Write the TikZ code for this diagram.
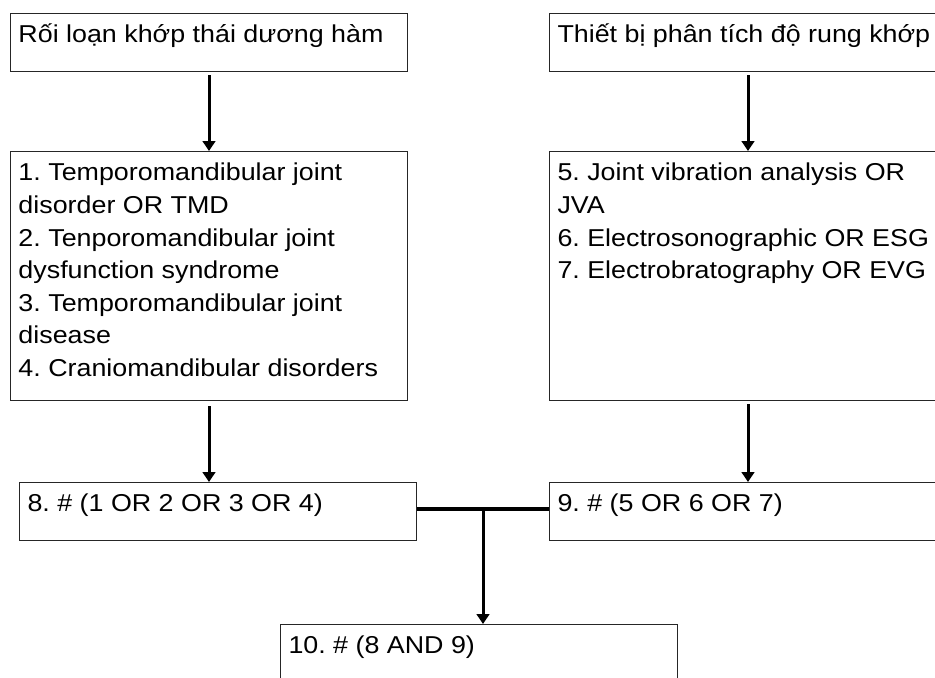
\documentclass[tikz,border=0pt]{standalone}
\usepackage{fontspec}
\setmainfont{Liberation Sans}[FakeStretch=1.1]
\usetikzlibrary{arrows.meta, calc}
\frenchspacing

\newcommand{\boxtext}[2]{\parbox[t][#1][t]{285.75pt}{\raggedright\strut #2}}

\begin{document}
\begin{tikzpicture}[x=0.75pt, y=-0.75pt,
    entry/.style={draw=black!85, line width=0.75pt, anchor=north west, inner xsep=6pt, inner ysep=5pt,
      font=\fontsize{18.3}{24.4}\selectfont},
    flow/.style={line width=2.25pt, -{Triangle[length=7.5pt, width=9.5pt]}},
    joinbar/.style={line width=3pt}]
        \useasboundingbox (0,0) rectangle (935,678);
        \clip (0,0) rectangle (935,678);

        % Topics
        \node[entry] (tmj) at (10,13) {\boxtext{33.5pt}{Rối loạn khớp thái dương hàm}};
        \node[entry] (jva) at (549,13) {\boxtext{33.5pt}{Thiết bị phân tích độ rung khớp}};

        % Search terms
        \node[entry] (tmjterms) at (10,151) {\boxtext{176.75pt}{1. Temporomandibular joint\\
          disorder OR TMD\\ 2. Tenporomandibular joint\\ dysfunction syndrome\\
          3. Temporomandibular joint\\ disease\\ 4. Craniomandibular disorders}};
        \node[entry] (jvaterms) at (549,151) {\boxtext{176.75pt}{5. Joint vibration analysis OR\\
          JVA\\ 6. Electrosonographic OR ESG\\ 7. Electrobratography OR EVG}};

        % Combined searches
        \node[entry] (tmjor) at (19,482) {\boxtext{33.5pt}{8. \# (1 OR 2 OR 3 OR 4)}};
        \node[entry] (jvaor) at (549,482) {\boxtext{33.5pt}{9. \# (5 OR 6 OR 7)}};
        \node[entry] (both) at (280,624) {\boxtext{33.5pt}{10. \# (8 AND 9)}};

        % Arrows
        \draw[flow] ($(tmj.south)+(0,3)$) -- (tmjterms.north);
        \draw[flow] ($(jva.south)+(0,3)$) -- (jvaterms.north);
        \draw[flow] ($(tmjterms.south)+(0,5)$) -- (tmjterms.south |- tmjor.north);
        \draw[flow] ($(jvaterms.south)+(0,3)$) -- (jvaterms.south |- jvaor.north);

        % AND of the two searches
        \coordinate (mid) at ($(tmjor.east)!0.5!(jvaor.west)+(0,-3)$);
        \draw[joinbar] ($(tmjor.east)+(0,-3)$) -- ($(jvaor.west)+(0,-3)$);
        \draw[flow] (mid) -- (mid |- both.north);
\end{tikzpicture}
\end{document}
